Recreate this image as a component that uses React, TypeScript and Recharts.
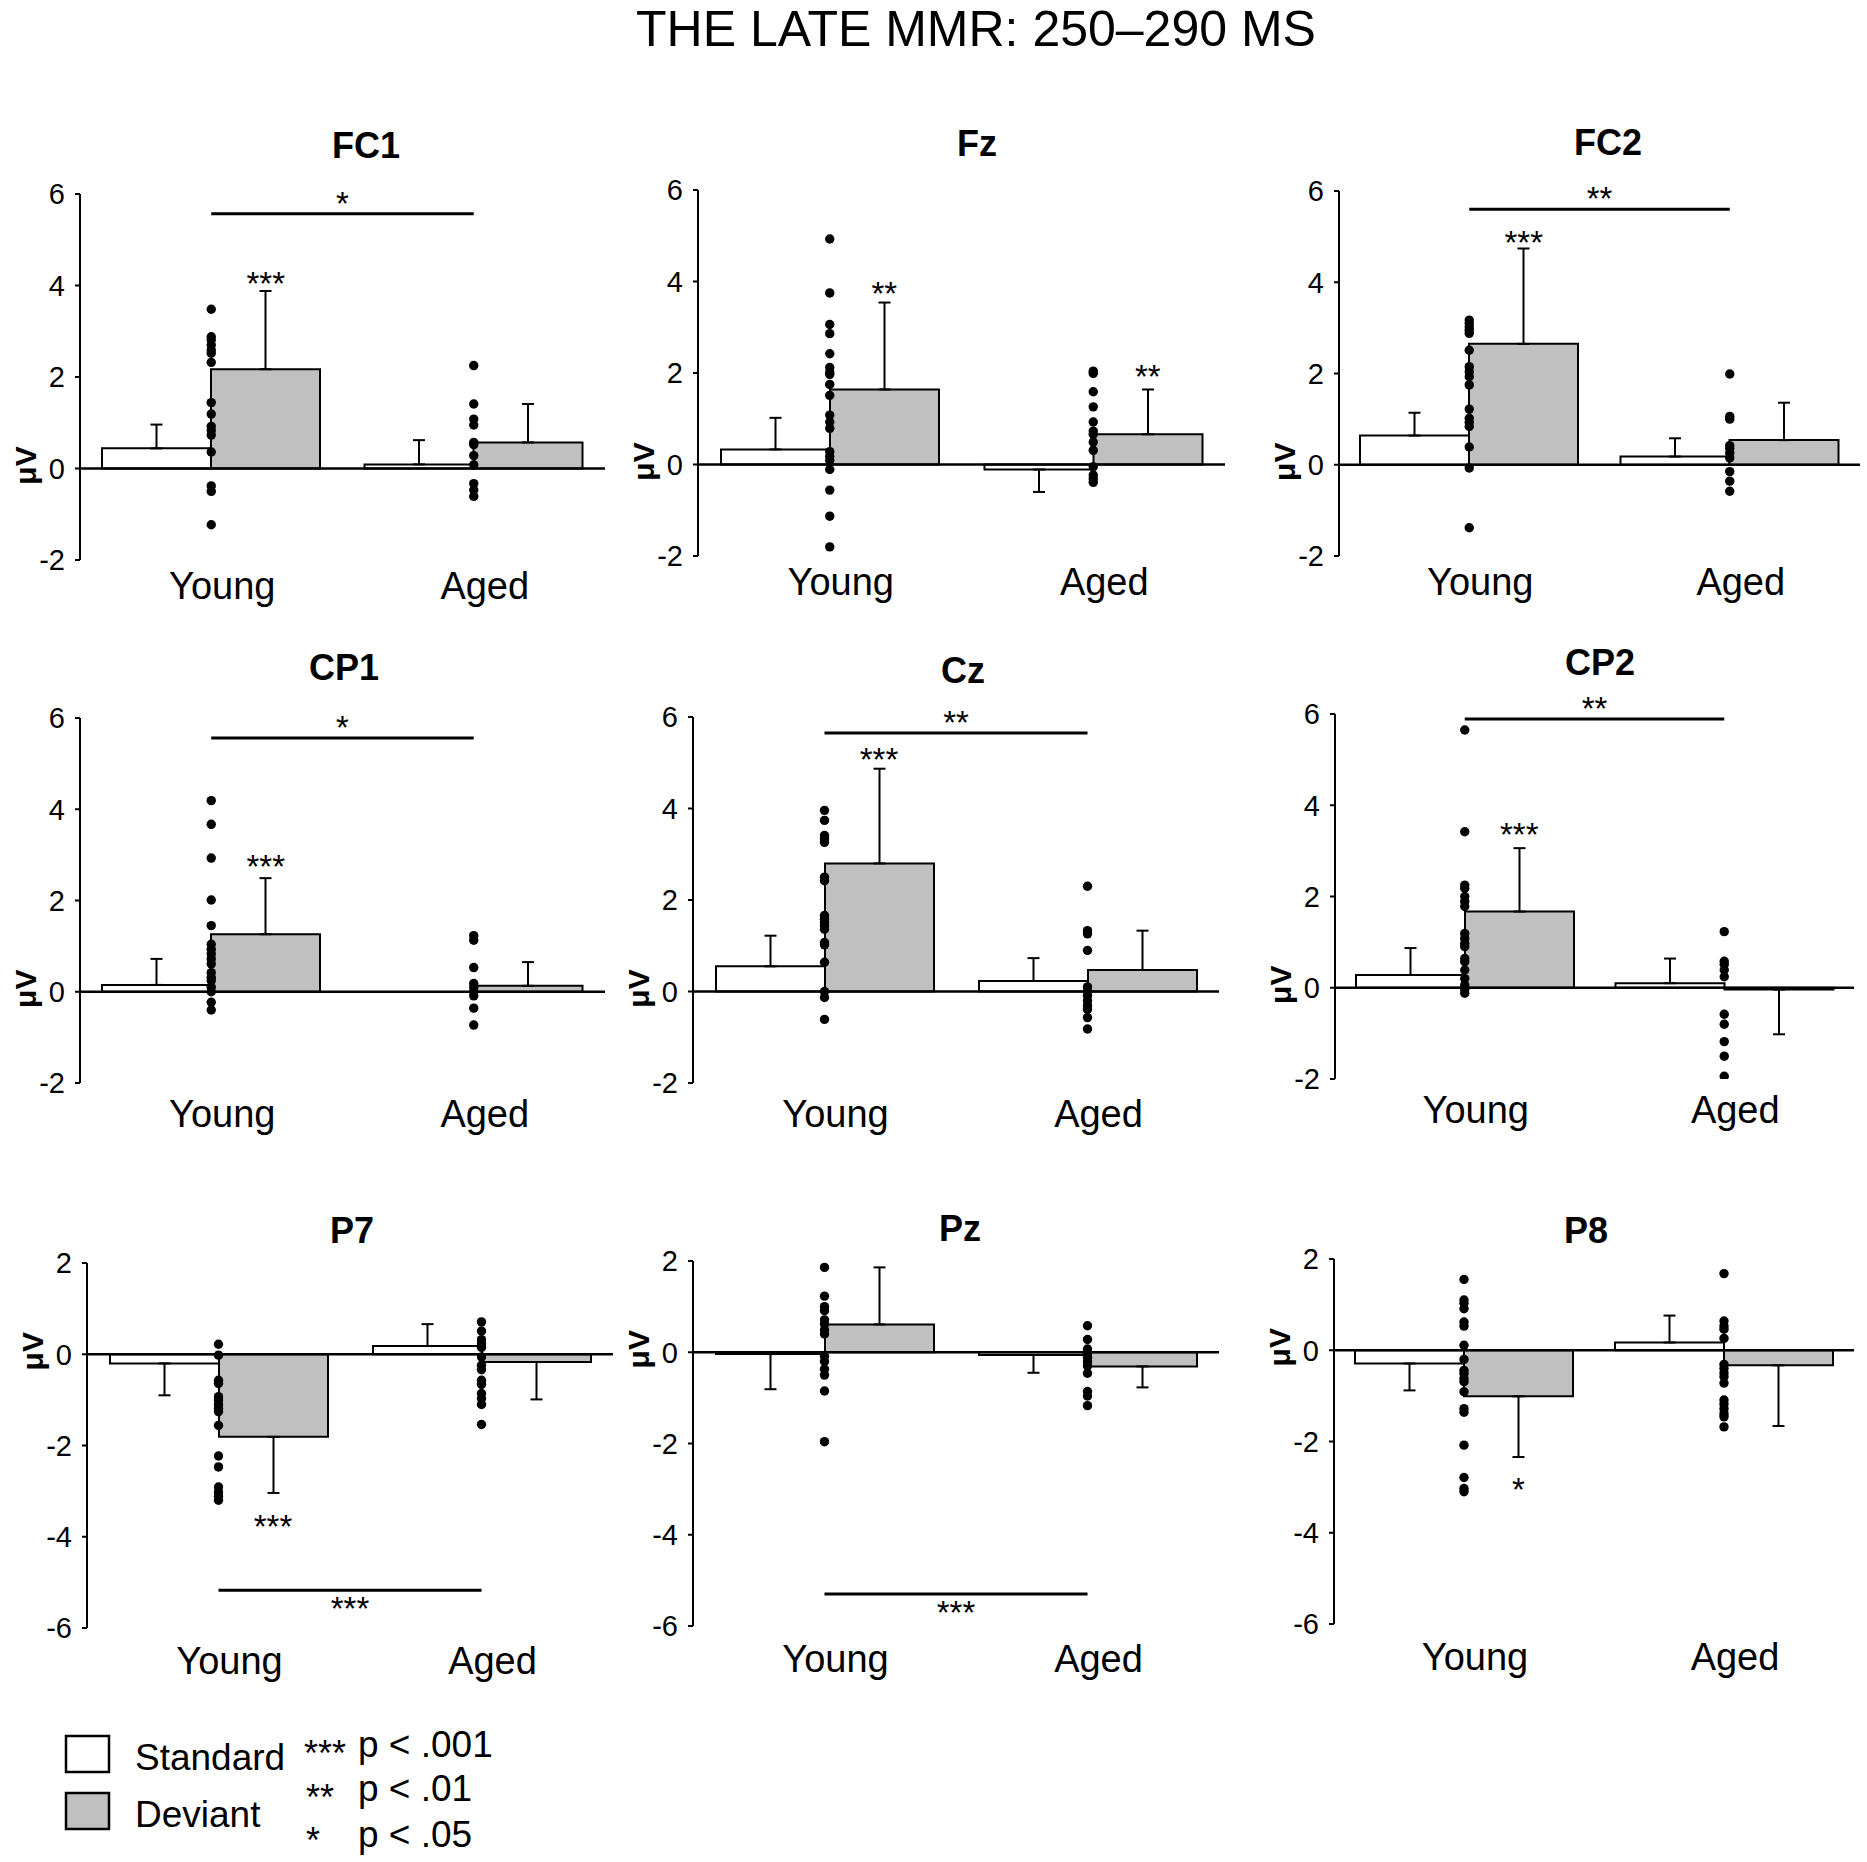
import React from 'react';
import { ComposedChart, Bar, Line, XAxis, YAxis, ErrorBar, ReferenceLine, ReferenceDot } from 'recharts';

const FONT = '"Liberation Sans", Arial, Helvetica, sans-serif';

// ---------- data ----------
const GROUPS = ['Young', 'Aged'];
const UPPER_TICKS = [-2, 0, 2, 4, 6];
const LOWER_TICKS = [-6, -4, -2, 0, 2];
const TITLES = ['FC1', 'Fz', 'FC2', 'CP1', 'Cz', 'CP2', 'P7', 'Pz', 'P8'];

// FC1
const FC1_STD = [0.44, 0.09];
const FC1_STD_SD = [0.52, 0.53];
const FC1_DEV = [2.17, 0.57];
const FC1_DEV_SD = [1.71, 0.84];
const FC1_YOUNG_PTS = [3.48, 2.88, 2.81, 2.7, 2.59, 2.52, 2.32, 1.44, 1.19, 0.92, 0.83, 0.73, 0.36, -0.38, -0.5, -1.23];
const FC1_AGED_PTS = [2.25, 1.41, 1.08, 0.95, 0.57, 0.52, 0.28, 0.08, -0.33, -0.47, -0.61];
const FC1_DEV_STARS = ['***', ''];
const FC1_DEV_STAR_Y = [4.2, 0];
const FC1_GROUP_SIG: [number, string] | null = [5.57, '*'];

// Fz
const FZ_STD = [0.33, -0.11];
const FZ_STD_SD = [0.69, 0.49];
const FZ_DEV = [1.64, 0.66];
const FZ_DEV_SD = [1.9, 0.98];
const FZ_YOUNG_PTS = [4.93, 3.75, 3.06, 2.86, 2.42, 2.12, 2.02, 1.97, 1.75, 1.51, 1.08, 0.93, 0.79, 0.28, 0.18, 0.09, -0.11, -0.56, -1.13, -1.8];
const FZ_AGED_PTS = [2.04, 1.99, 1.59, 1.26, 0.93, 0.73, 0.66, 0.49, 0.31, -0.05, -0.23, -0.31, -0.39];
const FZ_DEV_STARS = ['**', '**'];
const FZ_DEV_STAR_Y = [3.91, 2.09];
const FZ_GROUP_SIG: [number, string] | null = null;

// FC2
const FC2_STD = [0.64, 0.18];
const FC2_STD_SD = [0.5, 0.4];
const FC2_DEV = [2.65, 0.54];
const FC2_DEV_SD = [2.09, 0.82];
const FC2_YOUNG_PTS = [3.17, 3.1, 3.02, 2.95, 2.88, 2.51, 2.15, 2.04, 1.93, 1.75, 1.22, 1.02, 0.93, 0.84, 0.39, -0.07, -1.38];
const FC2_AGED_PTS = [1.99, 1.06, 1.0, 0.42, 0.36, 0.26, 0.15, -0.15, -0.36, -0.58];
const FC2_DEV_STARS = ['***', ''];
const FC2_DEV_STAR_Y = [5.03, 0];
const FC2_GROUP_SIG: [number, string] | null = [5.6, '**'];

// CP1
const CP1_STD = [0.15, 0.0];
const CP1_STD_SD = [0.57, 0.41];
const CP1_DEV = [1.26, 0.13];
const CP1_DEV_SD = [1.23, 0.52];
const CP1_YOUNG_PTS = [4.19, 3.67, 2.93, 2.01, 1.45, 1.04, 0.93, 0.83, 0.72, 0.61, 0.42, 0.31, 0.24, 0.1, 0.0, -0.23, -0.4];
const CP1_AGED_PTS = [1.23, 1.13, 0.53, 0.18, 0.09, 0.0, -0.09, -0.36, -0.73];
const CP1_DEV_STARS = ['***', ''];
const CP1_DEV_STAR_Y = [2.92, 0];
const CP1_GROUP_SIG: [number, string] | null = [5.56, '*'];

// Cz
const CZ_STD = [0.55, 0.23];
const CZ_STD_SD = [0.67, 0.5];
const CZ_DEV = [2.8, 0.47];
const CZ_DEV_SD = [2.07, 0.86];
const CZ_YOUNG_PTS = [3.96, 3.74, 3.41, 3.34, 3.26, 2.5, 2.42, 1.66, 1.58, 1.51, 1.44, 1.36, 1.07, 1.02, 0.64, 0.0, -0.13, -0.61];
const CZ_AGED_PTS = [2.3, 1.33, 1.26, 0.9, 0.1, 0.01, -0.09, -0.2, -0.31, -0.39, -0.57, -0.82];
const CZ_DEV_STARS = ['***', ''];
const CZ_DEV_STAR_Y = [5.23, 0];
const CZ_GROUP_SIG: [number, string] | null = [5.65, '**'];

// CP2
const CP2_STD = [0.28, 0.1];
const CP2_STD_SD = [0.59, 0.54];
const CP2_DEV = [1.67, -0.04];
const CP2_DEV_SD = [1.39, 0.98];
const CP2_YOUNG_PTS = [5.65, 3.42, 2.25, 2.18, 2.0, 1.89, 1.78, 1.19, 1.08, 0.97, 0.9, 0.64, 0.57, 0.39, 0.2, 0.06, -0.04, -0.12];
const CP2_AGED_PTS = [1.23, 0.58, 0.51, 0.39, 0.24, -0.58, -0.8, -1.18, -1.5, -1.94];
const CP2_DEV_STARS = ['***', ''];
const CP2_DEV_STAR_Y = [3.52, 0];
const CP2_GROUP_SIG: [number, string] | null = [5.89, '**'];

// P7
const P7_STD = [-0.2, 0.18];
const P7_STD_SD = [0.7, 0.48];
const P7_DEV = [-1.81, -0.17];
const P7_DEV_SD = [1.23, 0.82];
const P7_YOUNG_PTS = [0.22, -0.02, -0.57, -0.64, -0.93, -1.0, -1.1, -1.19, -1.26, -1.56, -2.23, -2.47, -2.91, -3.02, -3.11, -3.2];
const P7_AGED_PTS = [0.71, 0.51, 0.32, 0.23, 0.15, -0.06, -0.24, -0.34, -0.57, -0.66, -0.86, -0.97, -1.1, -1.54];
const P7_DEV_STARS = ['***', ''];
const P7_DEV_STAR_Y = [-3.62, 0];
const P7_GROUP_SIG: [number, string] | null = [-5.17, '***'];

// Pz
const PZ_STD = [-0.04, -0.06];
const PZ_STD_SD = [0.77, 0.39];
const PZ_DEV = [0.61, -0.31];
const PZ_DEV_SD = [1.25, 0.46];
const PZ_YOUNG_PTS = [1.86, 1.23, 1.0, 0.91, 0.71, 0.62, 0.49, 0.4, -0.09, -0.2, -0.37, -0.5, -0.85, -1.96];
const PZ_AGED_PTS = [0.58, 0.28, 0.07, -0.02, -0.11, -0.2, -0.3, -0.46, -0.86, -0.96, -1.17];
const PZ_DEV_STARS = ['', ''];
const PZ_DEV_STAR_Y = [0, 0];
const PZ_GROUP_SIG: [number, string] | null = [-5.3, '***'];

// P8
const P8_STD = [-0.29, 0.17];
const P8_STD_SD = [0.59, 0.59];
const P8_DEV = [-1.01, -0.33];
const P8_DEV_SD = [1.33, 1.33];
const P8_YOUNG_PTS = [1.55, 1.1, 1.03, 0.91, 0.62, 0.53, 0.11, -0.2, -0.44, -0.51, -0.62, -0.69, -0.91, -1.28, -1.36, -2.08, -2.79, -3.03, -3.1];
const P8_AGED_PTS = [1.68, 0.64, 0.53, 0.46, 0.26, -0.31, -0.4, -0.5, -0.58, -0.72, -1.09, -1.18, -1.28, -1.39, -1.46, -1.68];
const P8_DEV_STARS = ['*', ''];
const P8_DEV_STAR_Y = [-2.88, 0];
const P8_GROUP_SIG: [number, string] | null = null;

// ---------- layout (pixels) ----------
const LAYOUT = [
  { left: 80, right: 605, top: 194, bottom: 560, gap: 12, tx: 366, ty: 158 },
  { left: 698, right: 1225, top: 190, bottom: 556, gap: 12, tx: 977, ty: 156 },
  { left: 1339, right: 1860, top: 191, bottom: 556, gap: 12, tx: 1608, ty: 155 },
  { left: 80, right: 605, top: 718, bottom: 1083, gap: 17, tx: 344, ty: 680 },
  { left: 693, right: 1219, top: 717, bottom: 1083, gap: 17, tx: 963, ty: 683 },
  { left: 1335, right: 1854, top: 714, bottom: 1079, gap: 17, tx: 1600, ty: 675 },
  { left: 87, right: 613, top: 1263, bottom: 1628, gap: 19, tx: 352, ty: 1243 },
  { left: 693, right: 1219, top: 1261, bottom: 1626, gap: 19, tx: 960, ty: 1241 },
  { left: 1334, right: 1854, top: 1259, bottom: 1624, gap: 19, tx: 1586, ty: 1243 },
];

const PANELS = [
  { std: FC1_STD, stdSd: FC1_STD_SD, dev: FC1_DEV, devSd: FC1_DEV_SD, pts: [FC1_YOUNG_PTS, FC1_AGED_PTS], stars: FC1_DEV_STARS, starY: FC1_DEV_STAR_Y, sig: FC1_GROUP_SIG, ticks: UPPER_TICKS },
  { std: FZ_STD, stdSd: FZ_STD_SD, dev: FZ_DEV, devSd: FZ_DEV_SD, pts: [FZ_YOUNG_PTS, FZ_AGED_PTS], stars: FZ_DEV_STARS, starY: FZ_DEV_STAR_Y, sig: FZ_GROUP_SIG, ticks: UPPER_TICKS },
  { std: FC2_STD, stdSd: FC2_STD_SD, dev: FC2_DEV, devSd: FC2_DEV_SD, pts: [FC2_YOUNG_PTS, FC2_AGED_PTS], stars: FC2_DEV_STARS, starY: FC2_DEV_STAR_Y, sig: FC2_GROUP_SIG, ticks: UPPER_TICKS },
  { std: CP1_STD, stdSd: CP1_STD_SD, dev: CP1_DEV, devSd: CP1_DEV_SD, pts: [CP1_YOUNG_PTS, CP1_AGED_PTS], stars: CP1_DEV_STARS, starY: CP1_DEV_STAR_Y, sig: CP1_GROUP_SIG, ticks: UPPER_TICKS },
  { std: CZ_STD, stdSd: CZ_STD_SD, dev: CZ_DEV, devSd: CZ_DEV_SD, pts: [CZ_YOUNG_PTS, CZ_AGED_PTS], stars: CZ_DEV_STARS, starY: CZ_DEV_STAR_Y, sig: CZ_GROUP_SIG, ticks: UPPER_TICKS },
  { std: CP2_STD, stdSd: CP2_STD_SD, dev: CP2_DEV, devSd: CP2_DEV_SD, pts: [CP2_YOUNG_PTS, CP2_AGED_PTS], stars: CP2_DEV_STARS, starY: CP2_DEV_STAR_Y, sig: CP2_GROUP_SIG, ticks: UPPER_TICKS },
  { std: P7_STD, stdSd: P7_STD_SD, dev: P7_DEV, devSd: P7_DEV_SD, pts: [P7_YOUNG_PTS, P7_AGED_PTS], stars: P7_DEV_STARS, starY: P7_DEV_STAR_Y, sig: P7_GROUP_SIG, ticks: LOWER_TICKS },
  { std: PZ_STD, stdSd: PZ_STD_SD, dev: PZ_DEV, devSd: PZ_DEV_SD, pts: [PZ_YOUNG_PTS, PZ_AGED_PTS], stars: PZ_DEV_STARS, starY: PZ_DEV_STAR_Y, sig: PZ_GROUP_SIG, ticks: LOWER_TICKS },
  { std: P8_STD, stdSd: P8_STD_SD, dev: P8_DEV, devSd: P8_DEV_SD, pts: [P8_YOUNG_PTS, P8_AGED_PTS], stars: P8_DEV_STARS, starY: P8_DEV_STAR_Y, sig: P8_GROUP_SIG, ticks: LOWER_TICKS },
];

const BAR = 109;
const DEV_FILL = '#c0c0c0';

function buildRows(p: any) {
  return GROUPS.map((g, i) => {
    const row: any = {
      group: g,
      std: p.std[i],
      dev: p.dev[i],
      stdErr: p.std[i] < 0 ? [p.stdSd[i], 0] : [0, p.stdSd[i]],
      devErr: p.dev[i] < 0 ? [p.devSd[i], 0] : [0, p.devSd[i]],
    };
    p.pts[i].forEach((v: number, k: number) => {
      row['p' + k] = v;
    });
    return row;
  });
}

function vbOf(props: any) {
  const vb = props && props.viewBox ? props.viewBox : {};
  return { x: vb.x ?? 0, y: vb.y ?? 0, w: vb.width ?? 0, h: vb.height ?? 0 };
}

function Panel({ p, lay }: { p: any; lay: any }) {
  const ML = 40;
  const YW = 70;
  const MT = 40;
  const XH = 70;
  const MR = 5;
  const plotW = lay.right - lay.left;
  const plotH = lay.bottom - lay.top;
  const width = ML + YW + plotW + MR;
  const height = MT + plotH + XH;
  const rows = buildRows(p);
  const nPts = Math.max(p.pts[0].length, p.pts[1].length);
  const ticks = p.ticks;

  const catTick = (tp: any) => (
    <text
      x={tp.x + 11}
      y={tp.y + lay.gap + 27}
      textAnchor="middle"
      fontSize={38}
      fontFamily={FONT}
      fill="#000"
    >
      {tp.payload.value}
    </text>
  );

  const uvLabel = (lp: any) => {
    const v = vbOf(lp);
    const cx = v.x - 55;
    const cy = v.y - 3;
    return (
      <text
        x={cx}
        y={cy}
        transform={`rotate(-90, ${cx}, ${cy})`}
        textAnchor="middle"
        dominantBaseline="central"
        fontSize={30}
        fontWeight="bold"
        fontFamily={FONT}
        fill="#000"
      >
        μV
      </text>
    );
  };

  return (
    <div style={{ position: 'absolute', left: lay.left - ML - YW, top: lay.top - MT, width, height }}>
      <ComposedChart
        width={width}
        height={height}
        data={rows}
        margin={{ top: MT, right: MR, bottom: 0, left: ML }}
        barGap={0}
        barSize={BAR}
      >
        <XAxis
          dataKey="group"
          type="category"
          axisLine={false}
          tickLine={false}
          tickSize={0}
          tickMargin={0}
          height={XH}
          interval={0}
          tick={catTick}
        />
        <YAxis
          type="number"
          domain={[ticks[0], ticks[ticks.length - 1]]}
          ticks={ticks}
          allowDataOverflow
          interval={0}
          width={YW}
          axisLine={{ stroke: '#000', strokeWidth: 2 }}
          tickLine={{ stroke: '#000', strokeWidth: 2 }}
          tickSize={5}
          tickMargin={10}
          tick={{ fontSize: 29, fill: '#000', fontFamily: FONT }}
        />
        <Bar dataKey="std" fill="#ffffff" stroke="#000" strokeWidth={2} isAnimationActive={false}>
          <ErrorBar dataKey="stdErr" direction="y" width={6} stroke="#000" strokeWidth={2} isAnimationActive={false} />
        </Bar>
        <Bar dataKey="dev" fill={DEV_FILL} stroke="#000" strokeWidth={2} isAnimationActive={false}>
          <ErrorBar dataKey="devErr" direction="y" width={6} stroke="#000" strokeWidth={2} isAnimationActive={false} />
        </Bar>
        <ReferenceLine y={0} stroke="#000" strokeWidth={2.5} label={uvLabel} />
        {p.sig ? (
          <ReferenceLine
            segment={[
              { x: GROUPS[0], y: p.sig[0] },
              { x: GROUPS[1], y: p.sig[0] },
            ]}
            stroke="#000"
            strokeWidth={3}
            label={(lp: any) => {
              const v = vbOf(lp);
              const below = p.sig[0] < 0;
              return (
                <text
                  x={v.x + v.w / 2}
                  y={v.y + (below ? 30 : 1)}
                  textAnchor="middle"
                  fontSize={33}
                  fontFamily={FONT}
                  fill="#000"
                >
                  {p.sig[1]}
                </text>
              );
            }}
          />
        ) : null}
        {Array.from({ length: nPts }, (_, k) => (
          <Line
            key={'p' + k}
            dataKey={'p' + k}
            stroke="none"
            dot={{ r: 4.7, fill: '#000', stroke: '#000', strokeWidth: 0 }}
            activeDot={false}
            isAnimationActive={false}
            legendType="none"
          />
        ))}
        {GROUPS.map((g, i) =>
          p.stars[i] ? (
            <ReferenceDot
              key={'s' + i}
              x={g}
              y={p.starY[i]}
              r={1}
              fill="none"
              stroke="none"
              label={(lp: any) => {
                const v = vbOf(lp);
                return (
                  <text
                    x={v.x + v.w / 2 + BAR / 2}
                    y={v.y + v.h / 2 + 19}
                    textAnchor="middle"
                    fontSize={33}
                    fontFamily={FONT}
                    fill="#000"
                  >
                    {p.stars[i]}
                  </text>
                );
              }}
            />
          ) : null
        )}
      </ComposedChart>
    </div>
  );
}

export default function App() {
  return (
    <div style={{ position: 'absolute', left: 0, top: 0, width: 1867, height: 1862, background: '#fff', overflow: 'hidden' }}>
      <svg width={1867} height={1862} style={{ position: 'absolute', left: 0, top: 0 }}>
        <text x={976} y={46} textAnchor="middle" fontSize={50} fontFamily={FONT} fill="#000">
          THE LATE MMR: 250–290 MS
        </text>
        {TITLES.map((t, i) => (
          <text key={t} x={LAYOUT[i].tx} y={LAYOUT[i].ty} textAnchor="middle" fontSize={36} fontWeight="bold" fontFamily={FONT} fill="#000">
            {t}
          </text>
        ))}
        <rect x={66} y={1736} width={43} height={36} fill="#fff" stroke="#000" strokeWidth={2.5} />
        <rect x={66} y={1793} width={43} height={36} fill={DEV_FILL} stroke="#000" strokeWidth={2.5} />
        <text x={135} y={1770} fontSize={37} fontFamily={FONT} fill="#000">Standard</text>
        <text x={135} y={1827} fontSize={37} fontFamily={FONT} fill="#000">Deviant</text>
        <text x={304} y={1766} fontSize={36} fontFamily={FONT} fill="#000">***</text>
        <text x={306} y={1810} fontSize={36} fontFamily={FONT} fill="#000">**</text>
        <text x={306} y={1853} fontSize={36} fontFamily={FONT} fill="#000">*</text>
        <text x={358} y={1757} fontSize={37} fontFamily={FONT} fill="#000">p &lt; .001</text>
        <text x={358} y={1801} fontSize={37} fontFamily={FONT} fill="#000">p &lt; .01</text>
        <text x={358} y={1847} fontSize={37} fontFamily={FONT} fill="#000">p &lt; .05</text>
      </svg>
      {PANELS.map((p, i) => (
        <Panel key={TITLES[i]} p={p} lay={LAYOUT[i]} />
      ))}
    </div>
  );
}
